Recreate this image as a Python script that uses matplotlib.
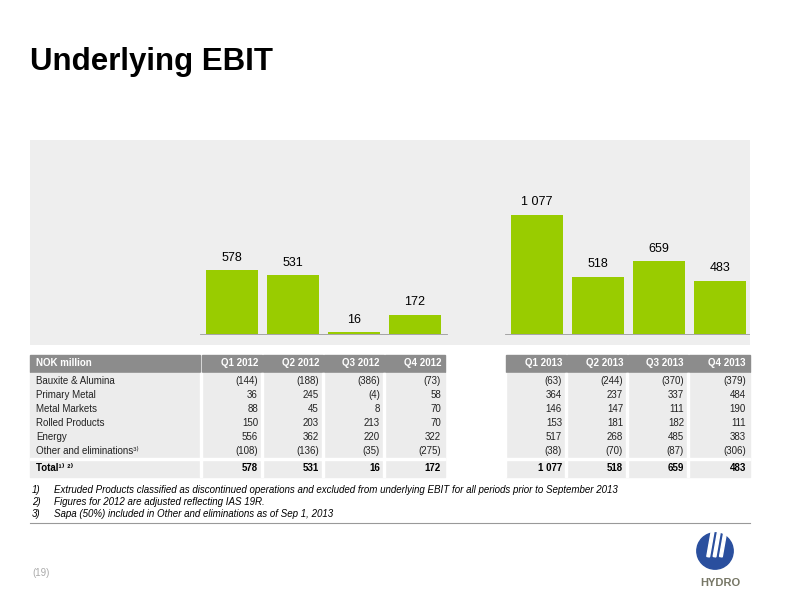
import matplotlib
matplotlib.use("Agg")
import matplotlib.pyplot as plt
from matplotlib.patches import Rectangle, Wedge

quarters = ["Q1 2012", "Q2 2012", "Q3 2012", "Q4 2012", "Q1 2013", "Q2 2013", "Q3 2013", "Q4 2013"]
totals = [578, 531, 16, 172, 1077, 518, 659, 483]
total_labels = ["578", "531", "16", "172", "1 077", "518", "659", "483"]
rows = ["Bauxite & Alumina", "Primary Metal", "Metal Markets", "Rolled Products", "Energy", "Other and eliminations"]
values = [
    ["(144)", "(188)", "(386)", "(73)", "(63)", "(244)", "(370)", "(379)"],
    ["36", "245", "(4)", "58", "364", "237", "337", "484"],
    ["88", "45", "8", "70", "146", "147", "111", "190"],
    ["150", "203", "213", "70", "153", "181", "182", "111"],
    ["556", "362", "220", "322", "517", "268", "485", "383"],
    ["(108)", "(136)", "(35)", "(275)", "(38)", "(70)", "(87)", "(306)"],
]
footnotes = [
    ("1)", "Extruded Products classified as discontinued operations and excluded from underlying EBIT for all periods prior to September 2013"),
    ("2)", "Figures for 2012 are adjusted reflecting IAS 19R."),
    ("3)", "Sapa (50%) included in Other and eliminations as of Sep 1, 2013"),
]
positions = [0, 1, 2, 3, 5, 6, 7, 8]

plt.rcParams['font.family'] = ['Liberation Sans', 'DejaVu Sans']
fig = plt.figure(figsize=(8, 6), dpi=100)
W, H = 800, 600
def fx(x): return x / W
def fy(y): return 1 - y / H

green = "#99cc00"
panel = "#eeeeee"
rowbg = "#ececec"
hdr = "#8c8c8c"

fig.text(fx(30), fy(62), "Underlying EBIT", fontsize=22.5, fontweight="bold", va="center", ha="left")

ax = fig.add_axes([fx(30), fy(345), fx(720), (345 - 140) / H])
ax.set_facecolor(panel)
for s in ax.spines.values():
    s.set_visible(False)
ax.set_xticks([]); ax.set_yticks([])
ax.set_xlim((30 - 232) / 61, (750 - 232) / 61)
ax.set_ylim(-11 / 0.1105, (334 - 140) / 0.1105)
ax.bar(positions, totals, width=0.85, color=green, zorder=2)
ax.axhline(0, xmin=(200-30)/720, xmax=(447-30)/720, color="#999999", lw=0.6)
ax.axhline(0, xmin=(505-30)/720, xmax=(750-30)/720, color="#999999", lw=0.6)
for p, v, l in zip(positions, totals, total_labels):
    ax.text(p, v + 60, l, ha="center", va="bottom", fontsize=9)

cols_x = [(202, 262), (263, 323), (324, 384), (385, 445), (506, 566), (567, 627), (628, 688), (689, 750)]
def rect(x0, y0, x1, y1, c):
    fig.patches.append(Rectangle((fx(x0), fy(y1)), fx(x1 - x0), (y1 - y0) / H,
                                 transform=fig.transFigure, color=c, zorder=0))
rect(30, 355, 200, 372, hdr)
for (a, b) in cols_x:
    rect(a, 355, b, 372, hdr)
rect(30, 373, 445, 459, rowbg)
rect(506, 373, 750, 459, rowbg)
rect(30, 460, 445, 477, rowbg)
rect(506, 460, 750, 477, rowbg)
for (a, b) in cols_x:
    rect(a - 2, 373, a, 477, "white")
rect(30, 458, 445, 460, "white")
rect(506, 458, 750, 460, "white")

fig.text(fx(36), fy(363.5), "NOK million", color="white", fontsize=7, fontweight="bold", va="center")
for q, (a, b) in zip(quarters, cols_x):
    fig.text(fx(b - 4), fy(363.5), q, color="white", fontsize=7, fontweight="bold", va="center", ha="right")
for i, r in enumerate(rows):
    y = 381 + 14 * i
    fig.text(fx(36), fy(y), r + ("³⁾" if i == 5 else ""), fontsize=7, va="center", color="#222222")
    for v, (a, b) in zip(values[i], cols_x):
        fig.text(fx(b - 4), fy(y), v, fontsize=7, va="center", ha="right", color="#222222")
fig.text(fx(36), fy(468), "Total¹⁾ ²⁾", fontsize=7, fontweight="bold", va="center")
for v, (a, b) in zip(total_labels, cols_x):
    fig.text(fx(b - 4), fy(468), v, fontsize=7, fontweight="bold", va="center", ha="right")

for i, (n, t) in enumerate(footnotes):
    y = 490 + 12 * i
    fig.text(fx(32), fy(y), n, fontsize=7, style="italic", va="center")
    fig.text(fx(54), fy(y), t, fontsize=7, style="italic", va="center")

fig.add_artist(plt.Line2D([fx(30), fx(750)], [fy(523), fy(523)], color="#999999", lw=0.8))
fig.text(fx(32), fy(573), "(19)", fontsize=7, color="#aaaaaa", va="center")

lax = fig.add_axes([fx(695), fy(572), fx(40), 42 / H])
lax.set_aspect("equal"); lax.axis("off")
lax.set_xlim(-1.1, 1.1); lax.set_ylim(-1.1, 1.1)
lax.add_patch(Wedge((0, 0), 1, 0, 360, color="#2a4f9e"))
for dx in [-0.45, -0.1, 0.25]:
    lax.add_patch(Rectangle((dx, -0.3), 0.15, 1.4, angle=-10, color="white"))
fig.text(fx(720), fy(583), "HYDRO", fontsize=8, color="#777766", ha="center", va="center", fontweight="bold")

fig.savefig("out.png", dpi=100, facecolor="white")
